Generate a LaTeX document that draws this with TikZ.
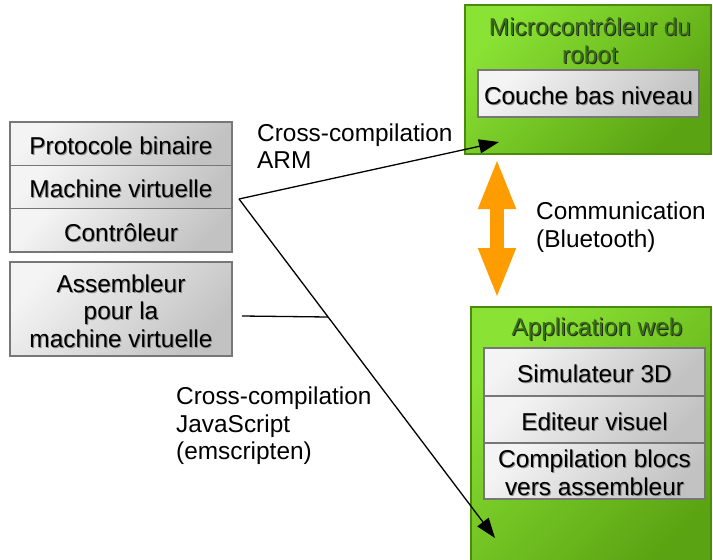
\documentclass[tikz,border=0pt]{standalone}
\usepackage{fontspec}
\setmainfont{Liberation Sans}
\usetikzlibrary{arrows.meta}
\definecolor{gtop}{HTML}{8AE234}
\definecolor{gbot}{HTML}{5AA312}
\definecolor{gborder}{HTML}{4A8A0C}
\definecolor{gtext}{HTML}{3A7014}
\definecolor{boxtop}{HTML}{F4F4F4}
\definecolor{boxbot}{HTML}{C2C2C2}
\definecolor{boxline}{HTML}{777777}
\definecolor{commorange}{HTML}{FF9C00}
\newcommand\shd[1]{\leavevmode\raisebox{-2.5pt}[\height][\depth]{\rlap{\hspace{1pt}\raisebox{-1pt}{\textcolor{black!45}{#1}}}#1}}
\newcommand\gsh[1]{\leavevmode\rlap{\hspace{1pt}\raisebox{-1pt}{\textcolor{black!85}{#1}}}\textcolor{gtext}{#1}}
\tikzset{
  greenbox/.style={draw=gborder, line width=1.6pt, top color=gtop, bottom color=gbot, shading angle=45, inner sep=0pt},
  graybox/.style={draw=boxline, line width=1.5pt, top color=boxtop, bottom color=boxbot, shading angle=45, inner sep=0pt, align=center},
  lbl/.style={inner sep=0pt, align=left, anchor=west},
  title/.style={inner sep=0pt, align=center},
  conn/.style={line width=1.3pt, -{Triangle[length=20pt,width=14pt]}},
  plain/.style={line width=1.3pt},
  commarrow/.style={draw=commorange, line width=14pt, {Triangle[length=51pt,width=34pt]}-{Triangle[length=51pt,width=34pt]}}
}
\begin{document}
\begin{tikzpicture}[x=1pt,y=-1pt,font=\fontsize{24.4}{27.6}\selectfont]
\useasboundingbox (0,0) rectangle (713,560);
\begin{scope}
\clip (0,0) rectangle (713,560);
% left stack
\node[graybox, minimum width=222pt, minimum height=43.3pt] (proto) at (121,143.7) {\shd{Protocole binaire}};
\node[graybox, minimum width=222pt, minimum height=43.3pt] (virt) at (121,187) {\shd{Machine virtuelle}};
\node[graybox, minimum width=222pt, minimum height=43.3pt] (ctrl) at (121,230.3) {\shd{Contrôleur}};
\node[graybox, minimum width=222pt, minimum height=94pt] (asm) at (121,309) {\shd{Assembleur}\\\shd{pour la}\\\shd{machine virtuelle}};
% microcontroller
\node[greenbox, minimum width=246pt, minimum height=149pt] (mcu) at (588,79.5) {};
\node[title] (mcutitle) at (590,41) {\gsh{Microcontrôleur du}\\\gsh{robot}};
\node[graybox, minimum width=221pt, minimum height=47pt] (cbn) at (588.5,93.5) {\shd{Couche bas niveau}};
% web application
\node[greenbox, minimum width=240pt, minimum height=273pt] (web) at (591,443.5) {};
\node[title] (webtitle) at (597,330) {\gsh{Application web}};
\node[graybox, minimum width=221pt, minimum height=48pt] (sim) at (594.5,372) {\shd{Simulateur 3D}};
\node[graybox, minimum width=221pt, minimum height=47pt] (edit) at (594.5,419.5) {\shd{Editeur visuel}};
\node[graybox, minimum width=221pt, minimum height=56pt] (comp) at (594.5,471) {\shd{Compilation blocs}\\\shd{vers assembleur}};
% connectors
\coordinate (j) at (239,199);
\coordinate (armend) at (499,142);
\coordinate (jsend) at (495,538);
\coordinate (asmout) at (242,316);
\coordinate (meet) at (328,317);
\draw[conn] (j) -- (armend);
\draw[conn] (j) -- (jsend);
\draw[plain] (asmout) -- (meet);
\coordinate (ctop) at (497,158);
\coordinate (cbot) at (497,299);
\draw[commarrow] (ctop) -- (cbot);
% labels
\node[lbl] (armlbl) at (257,146) {Cross-compilation\\ARM};
\node[lbl] (comlbl) at (536,227) {Communication\\(Bluetooth)};
\node[lbl] (jslbl) at (176,426) {Cross-compilation\\JavaScript\\(emscripten)};
\end{scope}
\end{tikzpicture}
\end{document}
